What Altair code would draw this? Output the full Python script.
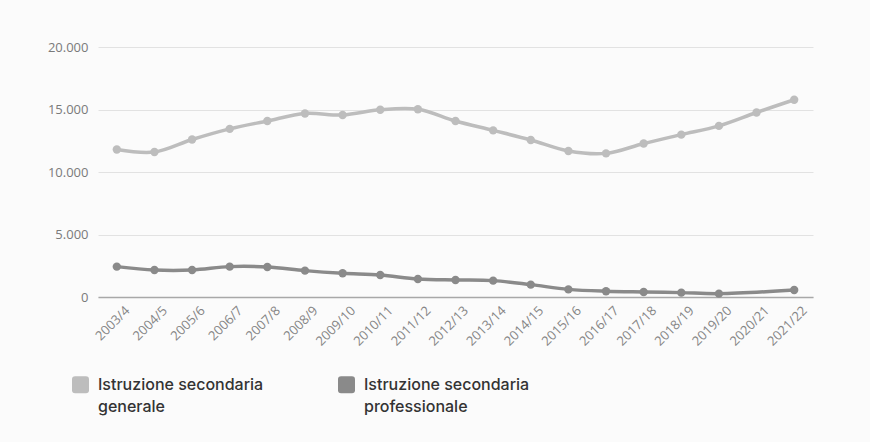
import altair as alt
import pandas as pd

# School years
years = ["2003/4", "2004/5", "2005/6", "2006/7", "2007/8", "2008/9", "2009/10",
         "2010/11", "2011/12", "2012/13", "2013/14", "2014/15", "2015/16",
         "2016/17", "2017/18", "2018/19", "2019/20", "2020/21", "2021/22"]

# Enrolled students per track (None = no figure for that year)
generale = [11800, 11600, 12600, 13450, 14080, 14680, 14560, 14980, 15020,
            14080, 13330, 12560, 11680, 11490, 12280, 12990, 13690, 14760, 15780]
professionale = [2430, 2160, 2160, 2430, 2400, 2110, 1900, 1760, 1440,
                 1360, 1310, 990, 610, 460, 400, 350, 270, None, 560]

series_names = ["Istruzione secondaria generale", "Istruzione secondaria professionale"]
series_colors = ["#bdbdbd", "#8a8a8a"]

rows = []
for name, vals in zip(series_names, [generale, professionale]):
    for y, v in zip(years, vals):
        if v is not None:
            rows.append({"anno": y, "serie": name, "valore": v})
df = pd.DataFrame(rows)

# rounded-square legend swatch (path in [-1, 1], scaled to the symbol size)
swatch = ("M -0.64,-1 L 0.64,-1 Q 1,-1 1,-0.64 L 1,0.64 "
          "Q 1,1 0.64,1 L -0.64,1 Q -1,1 -1,0.64 "
          "L -1,-0.64 Q -1,-1 -0.64,-1 Z")

color_scale = alt.Scale(domain=series_names, range=series_colors)

legend = alt.Legend(
    title=None,
    orient="none",
    legendX=-26,
    legendY=329,
    direction="horizontal",
    columns=2,
    columnPadding=74,
    symbolType=swatch,
    symbolSize=289,
    symbolStrokeWidth=0,
    symbolOpacity=1,
    labelFont="Inter",
    labelFontSize=16,
    labelFontWeight=500,
    labelColor="#333333",
    labelOffset=9,
    labelLimit=300,
    labelBaseline="middle",
    labelExpr="[slice(datum.label, 0, 21), slice(datum.label, 22)]",
)

x = alt.X(
    "anno:O",
    sort=years,
    title=None,
    scale=alt.Scale(domain=years, paddingOuter=0.5),
    axis=alt.Axis(
        labelAngle=-45,
        labelFont="Open Sans",
        labelFontSize=13,
        labelColor="#858585",
        labelPadding=7,
        labelOffset=6,
        ticks=False,
        domainColor="#a8a8a8",
        domainWidth=1.5,
        grid=False,
    ),
)

y = alt.Y(
    "valore:Q",
    title=None,
    scale=alt.Scale(domain=[0, 20000], nice=False),
    axis=alt.Axis(
        values=[0, 5000, 10000, 15000, 20000],
        labelExpr="replace(format(datum.value, ','), ',', '.')",
        labelFont="Open Sans",
        labelFontSize=13,
        labelColor="#7a7a7a",
        labelPadding=10,
        ticks=False,
        domain=False,
        gridColor="#e2e2e2",
        gridWidth=1,
    ),
)

lines = alt.Chart(df).mark_line(interpolate="catmull-rom", strokeWidth=3.5).encode(
    x=x, y=y, color=alt.Color("serie:N", scale=color_scale, legend=None)
)
points = alt.Chart(df).mark_circle(size=70, opacity=1).encode(
    x=x, y=y, color=alt.Color("serie:N", scale=color_scale, legend=None)
)
# legend-only layer: no rows pass the filter, entries come from the scale domain
key = alt.Chart(df).transform_filter("false").mark_point(filled=True, size=289).encode(
    x=x, y=y, color=alt.Color("serie:N", scale=color_scale, legend=legend)
)

chart = (
    alt.layer(lines, points, key)
    .resolve_legend(color="independent")
    .properties(
        width=715,
        height=250,
        autosize=alt.AutoSizeParams(type="none"),
        padding={"left": 98, "top": 47, "right": 57, "bottom": 145},
        background="#fbfbfb",
    )
    .configure(style={"guide-label": {"lineHeight": 22}})
    .configure_view(stroke=None)
)

chart.save("out.html", embed_options={"renderer": "svg", "actions": False})
